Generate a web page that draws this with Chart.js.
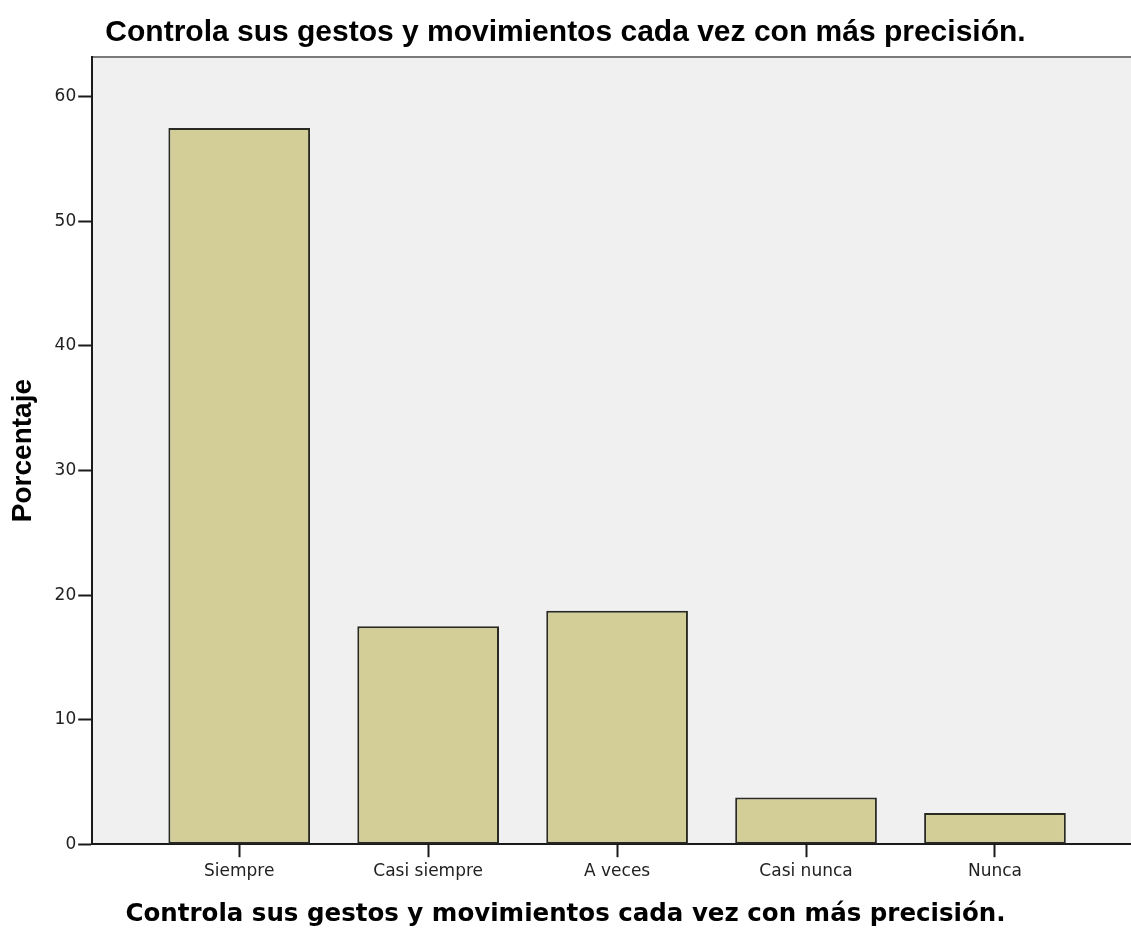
<!DOCTYPE html>
<html>
<head>
<meta charset="utf-8">
<script src="https://cdn.jsdelivr.net/npm/chart.js@4/dist/chart.umd.min.js"></script>
<style>
  html, body { margin: 0; padding: 0; background: #fff; overflow: hidden; }
  canvas { display: block; }
</style>
</head>
<body>
<canvas id="myChart" width="1131" height="929"></canvas>
<script>
// data (percent of answers)
const categories = ['Siempre', 'Casi siempre', 'A veces', 'Casi nunca', 'Nunca'];
const porcentaje = [57.5, 17.5, 18.75, 3.75, 2.5];
const yTicks = [0, 10, 20, 30, 40, 50, 60];
const titleText = 'Controla sus gestos y movimientos cada vez con más precisión.';

// grey plot background + thin grey top edge, like the SPSS frame
const plotFrame = {
  id: 'plotFrame',
  beforeDraw(chart) {
    const { ctx, chartArea: a } = chart;
    ctx.save();
    ctx.fillStyle = '#f0f0f0';
    ctx.fillRect(a.left, a.top, a.right - a.left, a.bottom - a.top);
    ctx.strokeStyle = '#7a7a7a';
    ctx.lineWidth = 2;
    ctx.beginPath();
    ctx.moveTo(a.left, a.top);
    ctx.lineTo(a.right, a.top);
    ctx.stroke();
    ctx.restore();
  }
};

const ctx = document.getElementById('myChart').getContext('2d');
const chart = new Chart(ctx, {
  type: 'bar',
  data: {
    datasets: [{
      label: 'Porcentaje',
      data: porcentaje.map((v, i) => ({ x: i, y: v })),
      backgroundColor: '#d3ce97',
      borderColor: '#2a2a24',
      borderWidth: 2,
      borderSkipped: false,
      categoryPercentage: 1,
      barPercentage: 0.75
    }]
  },
  options: {
    responsive: false,
    animation: false,
    layout: { padding: 0 },
    plugins: {
      legend: { display: false },
      tooltip: { enabled: false },
      title: {
        display: true,
        text: titleText,
        color: '#000',
        font: { family: '"Liberation Sans", Arial, sans-serif', size: 30, weight: 'bold' },
        padding: { top: 15, bottom: 6 }
      },
      // x axis caption: SPSS centres it on the whole picture, not the plot
      subtitle: {
        display: true,
        position: 'bottom',
        text: titleText,
        color: '#000',
        font: { family: '"DejaVu Sans", sans-serif', size: 24.5, weight: 'bold' },
        padding: { top: 14, bottom: 0 }
      }
    },
    scales: {
      x: {
        type: 'linear',
        offset: false,
        min: -0.778,
        max: 4.72,
        afterBuildTicks: (scale) => { scale.ticks = categories.map((c, i) => ({ value: i })); },
        ticks: {
          callback: (v) => categories[v],
          color: '#222',
          padding: 4,
          maxRotation: 0,
          font: { family: '"DejaVu Sans", sans-serif', size: 17 }
        },
        grid: { offset: false, drawOnChartArea: false, drawTicks: true, tickLength: 13, color: '#1a1a1a', tickWidth: 2 },
        border: { display: true, color: '#1a1a1a', width: 2 }
      },
      y: {
        min: 0,
        max: 63.2,
        afterBuildTicks: (scale) => { scale.ticks = yTicks.map(v => ({ value: v })); },
        ticks: {
          color: '#222',
          padding: 2,
          font: { family: '"DejaVu Sans", sans-serif', size: 17 }
        },
        grid: { drawOnChartArea: false, drawTicks: true, tickLength: 14, color: '#1a1a1a', tickWidth: 2 },
        border: { display: true, color: '#1a1a1a', width: 2 },
        title: {
          display: true,
          text: 'Porcentaje',
          color: '#000',
          font: { family: '"Liberation Sans", Arial, sans-serif', size: 28, weight: 'bold' },
          padding: { top: 6, bottom: 13 }
        }
      }
    }
  },
  plugins: [plotFrame]
});
</script>
</body>
</html>
